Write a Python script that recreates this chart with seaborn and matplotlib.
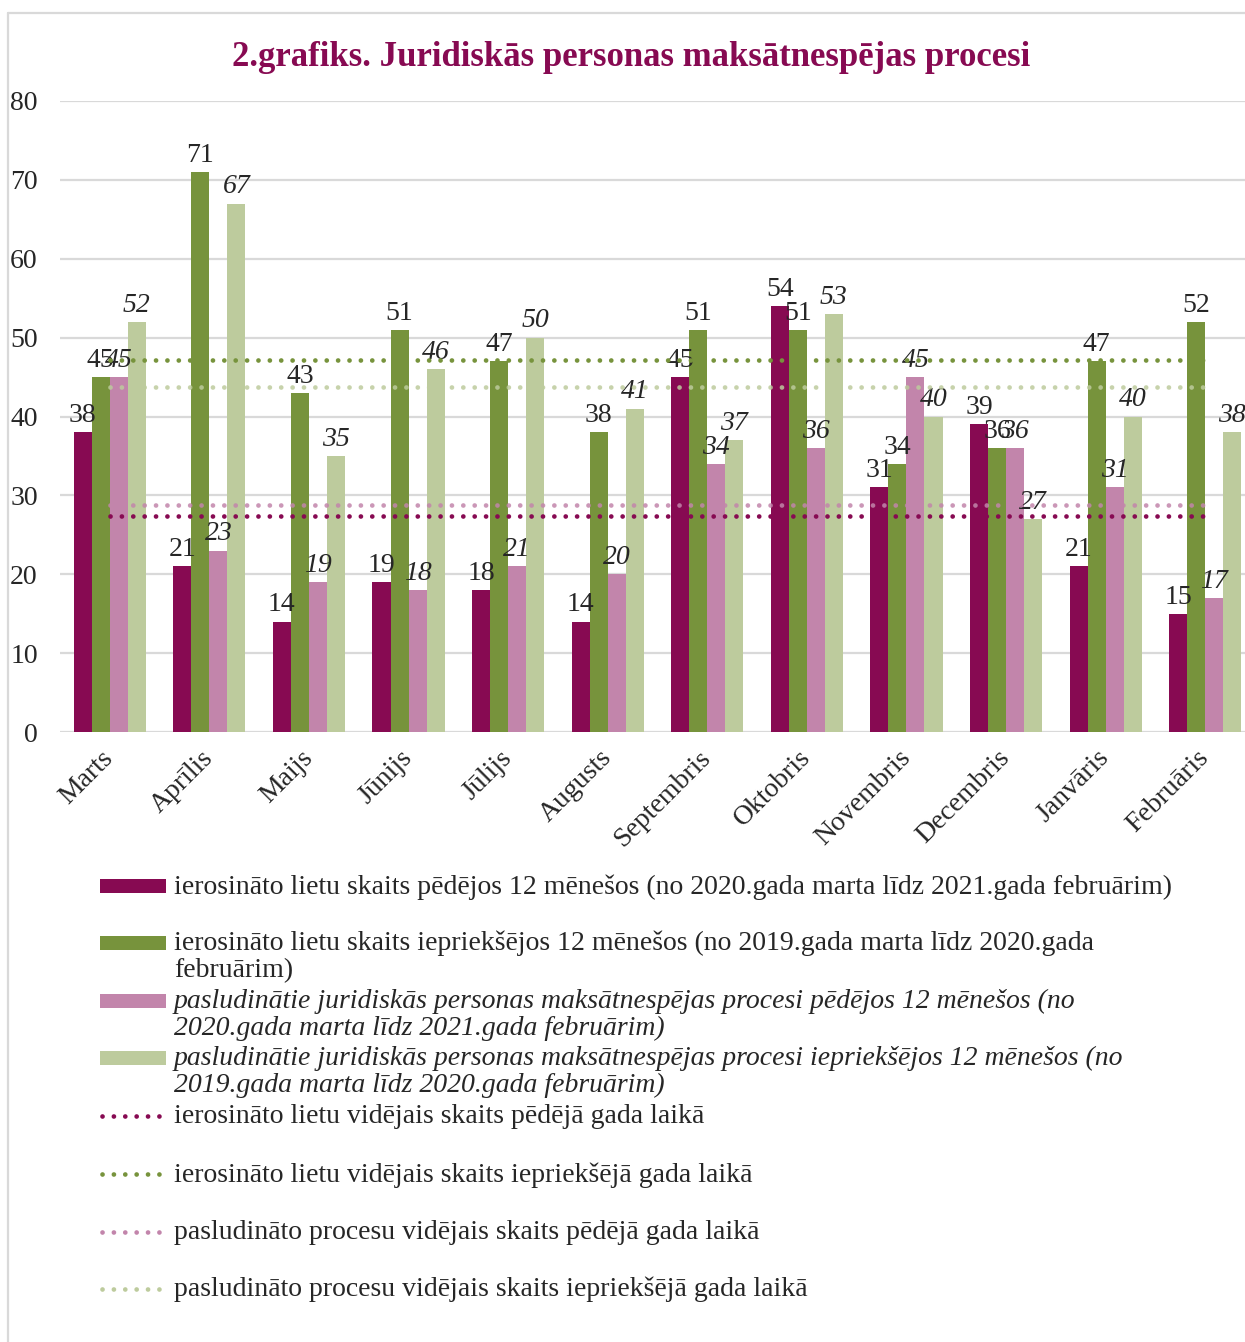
import pandas as pd
import matplotlib
matplotlib.use("Agg")
import matplotlib.pyplot as plt
import seaborn as sns
from matplotlib.patches import Rectangle
from matplotlib.lines import Line2D

months = ["Marts", "Aprīlis", "Maijs", "Jūnijs", "Jūlijs", "Augusts",
          "Septembris", "Oktobris", "Novembris", "Decembris", "Janvāris", "Februāris"]
started_recent = [38, 21, 14, 19, 18, 14, 45, 54, 31, 39, 21, 15]
started_prev = [45, 71, 43, 51, 47, 38, 51, 51, 34, 36, 47, 52]
declared_recent = [45, 23, 19, 18, 21, 20, 34, 36, 45, 36, 31, 17]
declared_prev = [52, 67, 35, 46, 50, 41, 37, 53, 40, 27, 40, 38]

avg_started_recent = 27.4
avg_started_prev = 47.2
avg_declared_recent = 28.8
avg_declared_prev = 43.8

bar_labels = [
    "ierosināto lietu skaits pēdējos 12 mēnešos (no 2020.gada marta līdz 2021.gada februārim)",
    "ierosināto lietu skaits iepriekšējos 12 mēnešos (no 2019.gada marta līdz 2020.gada\nfebruārim)",
    "pasludinātie juridiskās personas maksātnespējas procesi pēdējos 12 mēnešos (no\n2020.gada marta līdz 2021.gada februārim)",
    "pasludinātie juridiskās personas maksātnespējas procesi iepriekšējos 12 mēnešos (no\n2019.gada marta līdz 2020.gada februārim)",
]
line_labels = [
    "ierosināto lietu vidējais skaits pēdējā gada laikā",
    "ierosināto lietu vidējais skaits iepriekšējā gada laikā",
    "pasludināto procesu vidējais skaits pēdējā gada laikā",
    "pasludināto procesu vidējais skaits iepriekšējā gada laikā",
]

DARK, GREEN, PINK, LIGHT = "#870A52", "#77933C", "#C285AB", "#BDCB9D"
colors = [DARK, GREEN, PINK, LIGHT]
FS = 20

sns.set_style("white")
plt.rcParams["font.family"] = ["Liberation Serif", "DejaVu Serif"]

df = pd.DataFrame({
    "month": months * 4,
    "series": sum([[lab] * len(months) for lab in bar_labels], []),
    "value": started_recent + started_prev + declared_recent + declared_prev,
})

W, H = 1245, 1342
fig = plt.figure(figsize=(W / 100, H / 100), dpi=100)
ax = fig.add_axes([60 / W, 1 - 732 / H, (1255 - 60) / W, (732 - 101) / H])

sns.barplot(data=df, x="month", y="value", hue="series", hue_order=bar_labels,
            palette=colors, width=0.724, gap=0, saturation=1, legend=False,
            ax=ax, errorbar=None, linewidth=0)

for i, cont in enumerate(ax.containers):
    ax.bar_label(cont, padding=3, fontsize=FS,
                 fontstyle="italic" if i >= 2 else "normal")

dot = (0, (0.01, 2.4))
avgs = [avg_started_recent, avg_started_prev, avg_declared_recent, avg_declared_prev]
alphas = [1, 1, 0.85, 0.85]
for val, c, a in zip(avgs, colors, alphas):
    ax.hlines(val, 0, len(months) - 1, colors=c, linestyles=dot, lw=3.4,
              capstyle="round", alpha=a, zorder=3)

ax.set_ylim(0, 80)
ax.set_xlim(-0.5, len(months) - 0.5)
ax.set_yticks(range(0, 81, 10))
ax.grid(axis="y", color="#D9D9D9", lw=1.6)
ax.set_axisbelow(True)
for s in ax.spines.values():
    s.set_visible(False)
ax.tick_params(axis="y", length=0, pad=16, labelsize=FS)
ax.tick_params(axis="x", length=0, pad=16, labelsize=FS)
for lab in ax.get_xticklabels():
    lab.set_rotation(45)
    lab.set_ha("right")
    lab.set_va("center")
    lab.set_rotation_mode("anchor")
ax.set_xlabel("")
ax.set_ylabel("")

fig.text(631 / W, 1 - 57 / H, "2.grafiks. Juridiskās personas maksātnespējas procesi",
         ha="center", va="center", fontsize=25, fontweight="bold", color=DARK)

# figure border (left and top edges visible)
fig.add_artist(Line2D([8 / W, 8 / W], [0, 1 - 13 / H], transform=fig.transFigure,
                      color="#D9D9D9", lw=1.6))
fig.add_artist(Line2D([8 / W, 1], [1 - 13 / H, 1 - 13 / H], transform=fig.transFigure,
                      color="#D9D9D9", lw=1.6))

# legend
ys = [886, 943, 1001, 1058, 1116, 1174, 1232, 1289]
labels = bar_labels + line_labels
for i, (y, lab) in enumerate(zip(ys, labels)):
    c = colors[i % 4]
    if i < 4:
        fig.add_artist(Rectangle((100 / W, 1 - (y + 7) / H), 66 / W, 14 / H,
                                 transform=fig.transFigure, color=c, lw=0))
    else:
        fig.add_artist(Line2D([102 / W, 162 / W], [1 - y / H, 1 - y / H],
                              transform=fig.transFigure, color=c, lw=3.4,
                              linestyle=dot, dash_capstyle="round"))
    fig.text(174 / W, 1 - (y - 12) / H, lab, ha="left", va="top",
             fontsize=FS, fontstyle="italic" if i in (2, 3) else "normal",
             linespacing=1.1)

fig.savefig("out.png", dpi=100)
